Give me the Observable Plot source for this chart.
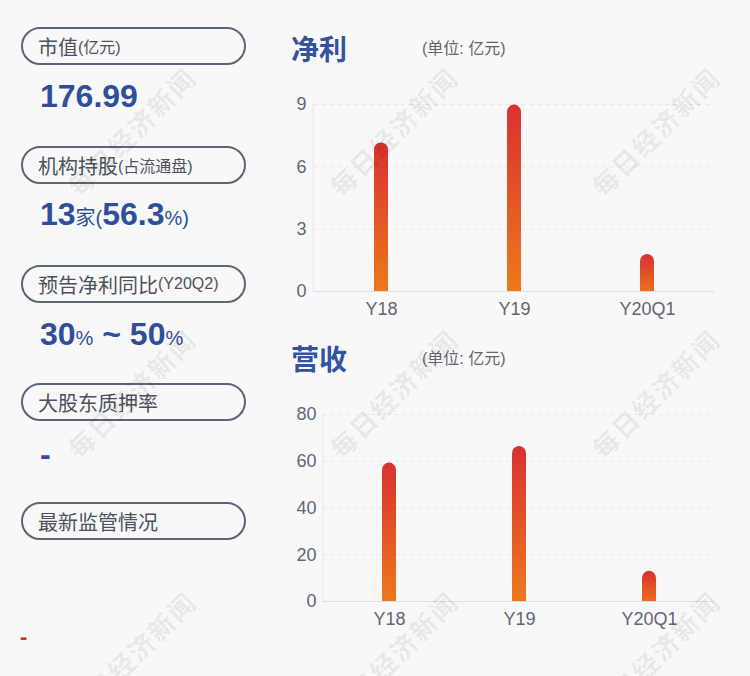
<!DOCTYPE html>
<html><head><meta charset="utf-8">
<script src="https://cdn.jsdelivr.net/npm/d3@7"></script>
<script src="https://cdn.jsdelivr.net/npm/@observablehq/plot@0.6"></script>
<style>
html,body{margin:0;padding:0;background:#f8f8f8;}
#page{position:relative;width:750px;height:676px;overflow:hidden;background:#f8f8f8;font-family:"Liberation Sans",Arial,"Noto Sans CJK SC",sans-serif;}
.pill{position:absolute;left:21px;width:225px;height:38px;box-sizing:border-box;border:2px solid #5b6577;border-radius:19px;padding-left:15px;display:flex;align-items:center;color:#4b525c;font-size:20px;font-family:"Noto Sans CJK SC",sans-serif;white-space:nowrap;}
.pill small{font-size:16px;font-family:"Liberation Sans","Noto Sans CJK SC",sans-serif;}
.val{position:absolute;left:40px;color:#2f4f9b;font-weight:bold;font-size:32px;line-height:32px;white-space:nowrap;}
.val .s{font-weight:normal;font-size:20px;}
.val .cj{font-weight:normal;font-size:20px;font-family:"Noto Sans CJK SC",sans-serif;}
.title{position:absolute;left:291px;font-family:"Noto Sans CJK SC",sans-serif;font-weight:bold;font-size:28px;line-height:28px;color:#33539e;}
.unit{position:absolute;left:422px;font-size:16px;line-height:16px;color:#5f6670;font-family:"Liberation Sans","Noto Sans CJK SC",sans-serif;}
.chart{position:absolute;left:280px;}
.wm{position:absolute;transform:translate(-50%,-50%) rotate(-45deg);font-family:"Noto Sans CJK SC",sans-serif;font-weight:bold;font-size:26px;letter-spacing:2px;color:rgba(0,0,0,0.08);white-space:nowrap;pointer-events:none;z-index:5;}
</style></head>
<body><div id="page">
<div class="pill" style="top:27px">市值<small>(亿元)</small></div>
<div class="val" style="top:80px">176.99</div>
<div class="pill" style="top:146px">机构持股<small>(占流通盘)</small></div>
<div class="val" style="top:198px">13<span class="cj">家</span><span class="s">(</span>56.3<span class="s">%)</span></div>
<div class="pill" style="top:265px">预告净利同比<small>(Y20Q2)</small></div>
<div class="val" style="top:318px">30<span class="s">%</span> ~ 50<span class="s">%</span></div>
<div class="pill" style="top:383px">大股东质押率</div>
<div class="val" style="top:438px">-</div>
<div class="pill" style="top:502px">最新监管情况</div>
<div class="val" style="top:626px;left:20px;font-size:22px;line-height:22px;color:#d9302f">-</div>

<div class="title" style="top:34px">净利</div>
<div class="unit" style="top:41px">(单位: 亿元)</div>
<div class="title" style="top:344px">营收</div>
<div class="unit" style="top:351px">(单位: 亿元)</div>
<div class="chart" id="c1" style="top:80px"></div>
<div class="chart" id="c2" style="top:390px"></div>
</div>
<script>
const categories = ["Y18", "Y19", "Y20Q1"];
const netProfit = [7.15, 8.97, 1.78];
const revenue = [59.2, 66.3, 12.9];
const profitTicks = [0, 3, 6, 9];
const revenueTicks = [0, 20, 40, 60, 80];
const watermark = "每日经济新闻";

function barChart(values, ticks, marginLeft, gid) {
  const data = categories.map((c, i) => ({cat: c, v: values[i]}));
  const chart = Plot.plot({
    width: 440, height: 241,
    marginLeft, marginRight: 6, marginTop: 24, marginBottom: 30,
    style: {background: "transparent", color: "#5f6775", fontSize: "18px", fontFamily: "'Liberation Sans', Arial, sans-serif", overflow: "visible"},
    x: {domain: categories, paddingInner: 0.895, paddingOuter: 0.4475, label: null, tickSize: 0, tickPadding: 11},
    y: {domain: [ticks[0], ticks[ticks.length - 1]], ticks, label: null, tickSize: 0, tickPadding: 7},
    marks: [
      Plot.ruleY(ticks.slice(1), {stroke: "#e7e7e7", strokeDasharray: "4,4"}),
      Plot.barY(data, {x: "cat", y: "v", fill: `url(#${gid})`, rx: 7, ry: 7, insetBottom: -8, clip: true}),
      Plot.ruleY([0], {stroke: "#dedede"})
    ]
  });
  const svg = d3.select(chart.tagName.toLowerCase() === "svg" ? chart : chart.querySelector("svg"));
  const g = svg.insert("defs", ":first-child").append("linearGradient")
    .attr("id", gid).attr("x1", 0).attr("y1", 0).attr("x2", 0).attr("y2", 1);
  g.append("stop").attr("offset", "0%").attr("stop-color", "#d93131");
  g.append("stop").attr("offset", "100%").attr("stop-color", "#ee7c1b");
  const xr = chart.scale("x").range, yr = chart.scale("y").range;
  svg.insert("line", "defs + *")
    .attr("x1", xr[0]).attr("x2", xr[0]).attr("y1", yr[0]).attr("y2", yr[1])
    .attr("stroke", "#e8e8e8");
  return chart;
}

document.getElementById("c1").appendChild(barChart(netProfit, profitTicks, 33, "gradProfit"));
document.getElementById("c2").appendChild(barChart(revenue, revenueTicks, 43, "gradRevenue"));

const page = document.getElementById("page");
const wmCenters = [131, 393, 655];
for (const cy of wmCenters) for (const cx of wmCenters) {
  const d = document.createElement("div");
  d.className = "wm";
  d.style.left = cx + "px";
  d.style.top = cy + "px";
  d.textContent = watermark;
  page.appendChild(d);
}
</script>
</body></html>
